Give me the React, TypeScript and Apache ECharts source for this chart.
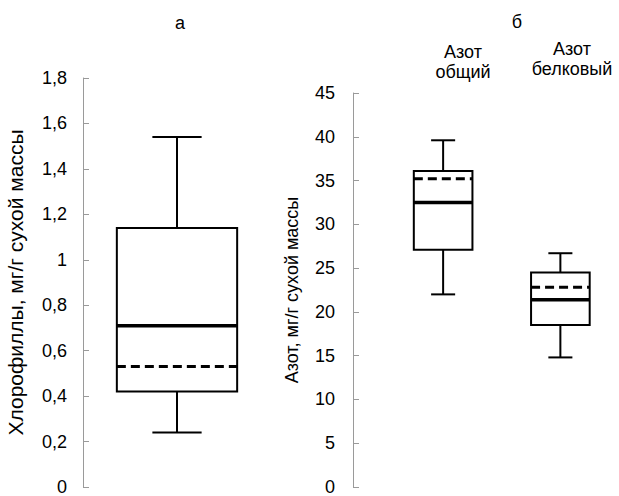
import React, { useEffect, useRef } from "react";
import * as echarts from "echarts";

// [whiskerLow, q1, median, q3, whiskerHigh]
const chlorCategories = ["Хлорофиллы"];
const chlorBoxes = [[0.24, 0.42, 0.71, 1.14, 1.54]];
const chlorMeans = [0.53];
const chlorTicks = { min: 0, max: 1.8, interval: 0.2 };

const nitroCategories = ["Азот общий", "Азот белковый"];
const nitroBoxes = [
  [22.0, 27.1, 32.5, 36.1, 39.6],
  [14.8, 18.5, 21.4, 24.5, 26.7],
];
const nitroMeans = [35.2, 22.8];
const nitroTicks = { min: 0, max: 45, interval: 5 };

const FONT = "'Liberation Sans', Arial, sans-serif";

function makeRender(boxRatio: number, capRatio: number) {
  return (params: any, api: any) => {
    const idx = api.value(0);
    const lo = api.value(1);
    const q1 = api.value(2);
    const med = api.value(3);
    const q3 = api.value(4);
    const hi = api.value(5);
    const mean = api.value(6);
    const band = api.size([1, 0])[0];
    const bw = band * boxRatio;
    const cw = band * capRatio;
    const [cx, yLo] = api.coord([idx, lo]);
    const yQ1 = api.coord([idx, q1])[1];
    const yMed = api.coord([idx, med])[1];
    const yQ3 = api.coord([idx, q3])[1];
    const yHi = api.coord([idx, hi])[1];
    const yMean = api.coord([idx, mean])[1];
    const thin = { stroke: "#000", lineWidth: 2, fill: null };
    return {
      type: "group",
      children: [
        { type: "line", shape: { x1: cx, y1: yHi, x2: cx, y2: yQ3 }, style: thin },
        { type: "line", shape: { x1: cx, y1: yQ1, x2: cx, y2: yLo }, style: thin },
        { type: "line", shape: { x1: cx - cw / 2, y1: yHi, x2: cx + cw / 2, y2: yHi }, style: thin },
        { type: "line", shape: { x1: cx - cw / 2, y1: yLo, x2: cx + cw / 2, y2: yLo }, style: thin },
        {
          type: "rect",
          shape: { x: cx - bw / 2, y: yQ3, width: bw, height: yQ1 - yQ3 },
          style: { stroke: "#000", lineWidth: 2, fill: "#fff" },
        },
        {
          type: "line",
          shape: { x1: cx - bw / 2, y1: yMed, x2: cx + bw / 2, y2: yMed },
          style: { stroke: "#000", lineWidth: 3.5 },
        },
        {
          type: "line",
          shape: { x1: cx - bw / 2, y1: yMean, x2: cx + bw / 2, y2: yMean },
          style: { stroke: "#000", lineWidth: 3, lineDash: [9, 5] },
        },
      ],
    };
  };
}

function yAxisCommon(name: string, nameSize: number, ticks: any, labelMargin: number, nameGap: number, offset: number, fmt: (v: number) => string) {
  return {
    type: "value",
    min: ticks.min,
    max: ticks.max,
    interval: ticks.interval,
    offset,
    name,
    nameLocation: "middle",
    nameGap,
    nameTextStyle: { fontFamily: FONT, fontSize: nameSize, color: "#000" },
    axisLine: { show: true, lineStyle: { color: "#9a9a9a", width: 1 } },
    axisTick: { show: true, inside: true, length: 6, lineStyle: { color: "#9a9a9a" } },
    axisLabel: { fontFamily: FONT, fontSize: 18, color: "#000", margin: labelMargin, formatter: fmt },
    splitLine: { show: false },
  };
}

export default function App() {
  const ref = useRef<HTMLDivElement>(null);
  useEffect(() => {
    if (!ref.current) return;
    const chart = echarts.init(ref.current, null, { renderer: "svg" });
    const chlorData = chlorBoxes.map((b, i) => [i, ...b, chlorMeans[i]]);
    const nitroData = nitroBoxes.map((b, i) => [i, ...b, nitroMeans[i]]);
    chart.setOption({
      animation: false,
      backgroundColor: "#fff",
      grid: [
        { left: 83, top: 78, width: 188, height: 412 },
        { left: 384.5, top: 93, width: 242, height: 395 },
      ],
      xAxis: [
        { type: "category", gridIndex: 0, data: chlorCategories, show: false },
        { type: "category", gridIndex: 1, data: nitroCategories, show: false },
      ],
      yAxis: [
        { gridIndex: 0, ...yAxisCommon("Хлорофиллы, мг/г сухой массы", 21, chlorTicks, 16, 57, 0, (v: number) => String(Math.round(v * 10) / 10).replace(".", ",")) },
        { gridIndex: 1, ...yAxisCommon("Азот, мг/г сухой массы", 18, nitroTicks, 18, 52, 31.5, (v: number) => String(v)) },
      ],
      graphic: [
        { type: "text", x: 180, y: 23, style: { text: "а", font: `18px ${FONT}`, fill: "#000", textAlign: "center", textVerticalAlign: "middle" } },
        { type: "text", x: 517, y: 22, style: { text: "б", font: `18px ${FONT}`, fill: "#000", textAlign: "center", textVerticalAlign: "middle" } },
        { type: "text", x: 463, y: 62, style: { text: "Азот\nобщий", font: `18px ${FONT}`, lineHeight: 20, fill: "#000", textAlign: "center", textVerticalAlign: "middle" } },
        { type: "text", x: 572, y: 59, style: { text: "Азот\nбелковый", font: `18px ${FONT}`, lineHeight: 20, fill: "#000", textAlign: "center", textVerticalAlign: "middle" } },
      ],
      series: [
        {
          type: "custom",
          xAxisIndex: 0,
          yAxisIndex: 0,
          data: chlorData,
          encode: { x: 0, y: [1, 2, 3, 4, 5, 6] },
          renderItem: makeRender(0.64, 0.262),
        },
        {
          type: "custom",
          xAxisIndex: 1,
          yAxisIndex: 1,
          data: nitroData,
          encode: { x: 0, y: [1, 2, 3, 4, 5, 6] },
          renderItem: makeRender(0.5, 0.205),
        },
      ],
    });
    return () => chart.dispose();
  }, []);
  return <div ref={ref} style={{ width: 619, height: 496, position: "absolute", left: 0, top: 0 }} />;
}
